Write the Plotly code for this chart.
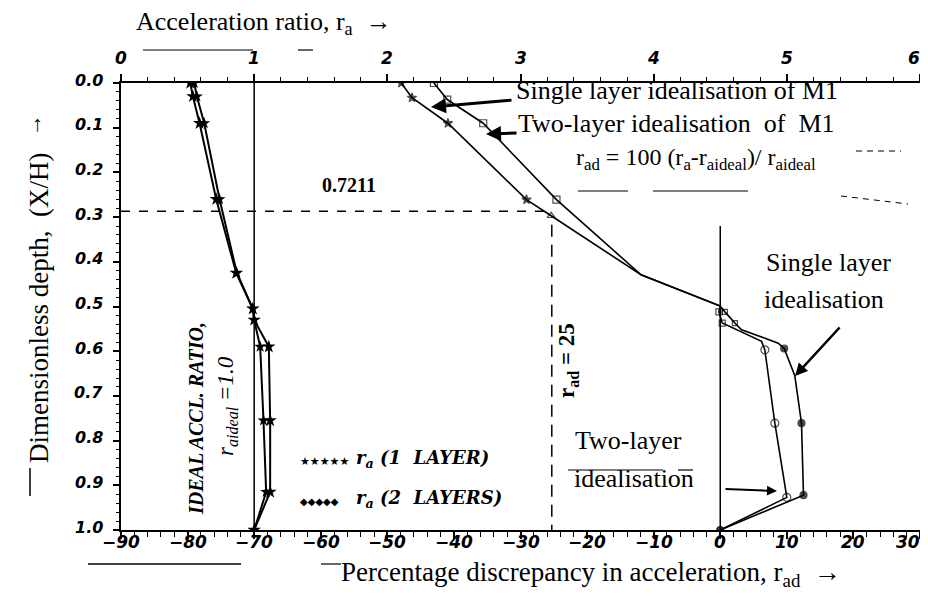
import plotly.graph_objects as go

# ---------------- data ----------------
depth_ra = [0.0, 0.03, 0.09, 0.26, 0.425, 0.505, 0.53, 0.59, 0.755, 0.915, 1.0]
ra_1layer = [0.52, 0.54, 0.59, 0.715, 0.865, 0.99, 1.0, 1.11, 1.12, 1.12, 1.0]
ra_2layer = [0.55, 0.57, 0.625, 0.74, 0.87, 0.99, 1.0, 1.045, 1.07, 1.09, 1.0]

depth_single = [0.0, 0.033, 0.09, 0.261, 0.297, 0.429, 0.499, 0.512, 0.537, 0.552, 0.582, 0.594, 0.655, 0.761, 0.922, 1.0]
rad_single = [-47.9, -46.3, -40.9, -29.1, -25.4, -11.9, 0.0, 0.7, 2.2, 3.2, 8.7, 9.6, 11.2, 12.2, 12.5, 0.0]

depth_two = [0.0, 0.037, 0.09, 0.261, 0.429, 0.499, 0.512, 0.537, 0.578, 0.597, 0.761, 0.927, 1.0]
rad_two = [-43.0, -41.0, -35.6, -24.6, -11.9, 0.0, -0.2, 0.3, 6.2, 6.7, 8.2, 10.0, 0.0]

ra_ideal = 1.0
rad_ref = -25.3
depth_ref = 0.287
depth_ref_label = "0.7211"

bottom_ticks = list(range(-90, 31, 10))
top_ticks = list(range(0, 7))
depth_ticks = [round(i * 0.1, 1) for i in range(11)]

# ---------------- styles ----------------
sym_single = ["star"] * 4 + ["triangle-up-open"] + ["circle"] * 2 + ["square-open"] * 2 + ["circle"] * 7
size_single = [7, 7, 7, 7, 7, 0, 0, 5, 5, 0, 0, 7, 0, 7, 7, 7]
sym_two = ["square-open"] * 4 + ["circle"] * 2 + ["square-open"] * 2 + ["circle-open"] * 5
size_two = [7, 7, 7, 7, 0, 0, 6, 6, 0, 8, 8, 8, 6]

L, R, T, B = 113, 912, 75, 522
W, H = 928, 596


def px(x):
    return (x - L) / (R - L)


def py(y):
    return (B - y) / (B - T)


SERIF = "Liberation Serif"
TICKFONT = dict(family="DejaVu Sans", size=17, color="black", weight="bold", style="italic")

fig = go.Figure()

# acceleration ratio curves (top axis)
fig.add_trace(go.Scatter(x=ra_1layer, y=depth_ra, xaxis="x2", yaxis="y", mode="lines+markers",
                         line=dict(color="black", width=2),
                         marker=dict(symbol="star", size=10, color="black"), name="ra 1 layer"))
fig.add_trace(go.Scatter(x=ra_2layer, y=depth_ra, xaxis="x2", yaxis="y", mode="lines+markers",
                         line=dict(color="black", width=2),
                         marker=dict(symbol="star", size=9, color="black"), name="ra 2 layers"))

# percentage discrepancy curves (bottom axis)
fig.add_trace(go.Scatter(x=rad_single, y=depth_single, mode="lines+markers",
                         line=dict(color="black", width=1.6),
                         marker=dict(symbol=sym_single, size=size_single, color="black",
                                     line=dict(color="black", width=1.2)),
                         name="single"))
fig.add_trace(go.Scatter(x=rad_two, y=depth_two, mode="lines+markers",
                         line=dict(color="black", width=1.6),
                         marker=dict(symbol=sym_two, size=size_two, color="black",
                                     line=dict(color="black", width=1.2)),
                         name="two"))

shapes = [
    dict(type="line", xref="x2", yref="y", x0=ra_ideal, x1=ra_ideal, y0=0, y1=1,
         line=dict(color="black", width=1.5)),
    dict(type="line", xref="x", yref="y", x0=0, x1=0, y0=0.32, y1=1,
         line=dict(color="black", width=1.5)),
    dict(type="line", xref="x", yref="y", x0=-90, x1=rad_ref, y0=depth_ref, y1=depth_ref,
         line=dict(color="black", width=1.5, dash="9px,9px")),
    dict(type="line", xref="x", yref="y", x0=rad_ref, x1=rad_ref, y0=depth_ref + 0.03, y1=1,
         line=dict(color="black", width=1.5, dash="12px,8px")),
]
# scan artefact strokes
for (x0, y0, x1, y1, w) in [(80, 556, 233, 556, 1.5), (313, 556, 333, 556, 1.2),
                            (560, 462, 655, 462, 1.2), (670, 462, 685, 462, 1.2),
                            (22, 460, 22, 488, 1.5), (135, 42, 245, 42, 1.2), (290, 42, 305, 42, 1.2),
                            (570, 183, 620, 183, 1.2), (645, 183, 740, 183, 1.2)]:
    shapes.append(dict(type="line", xref="paper", yref="paper", x0=px(x0), x1=px(x1),
                       y0=py(y0), y1=py(y1), line=dict(color="black", width=w)))
for (x0, y0, x1, y1) in [(848, 143, 893, 143), (833, 188, 900, 196)]:
    shapes.append(dict(type="line", xref="paper", yref="paper", x0=px(x0), x1=px(x1),
                       y0=py(y0), y1=py(y1), line=dict(color="black", width=1, dash="6px,5px")))

ann = []


def text(t, x, y, size=20, xanchor="center", angle=0, font=SERIF, weight="normal", style="normal"):
    ann.append(dict(text=t, x=px(x), y=py(y), xref="paper", yref="paper", showarrow=False,
                    xanchor=xanchor, yanchor="middle", textangle=angle,
                    font=dict(family=font, size=size, color="black", weight=weight, style=style)))


def arrow(x_tip, y_tip, x_tail, y_tail, width=2.5, head=2):
    ann.append(dict(text="", x=px(x_tip), y=py(y_tip), xref="paper", yref="paper",
                    ax=x_tail - x_tip, ay=y_tail - y_tip, axref="pixel", ayref="pixel",
                    showarrow=True, arrowhead=head, arrowsize=1, arrowwidth=width, arrowcolor="black"))


# tick labels (bold italic) placed through the axis scales
for v in bottom_ticks:
    ann.append(dict(text=str(v).replace("-", "−"), x=v, xref="x", y=py(534), yref="paper",
                    showarrow=False, xanchor="center", yanchor="middle", font=TICKFONT,
                    xshift=-12 if v == bottom_ticks[-1] else 0))
for v in top_ticks:
    ann.append(dict(text=str(v), x=v, xref="x2", y=py(50), yref="paper",
                    showarrow=False, xanchor="center", yanchor="middle", font=TICKFONT,
                    xshift=-6 if v == top_ticks[-1] else 0))
for v in depth_ticks:
    ann.append(dict(text=f"{v:.1f}", x=px(97), xref="paper", y=v, yref="y", yshift=3,
                    showarrow=False, xanchor="right", yanchor="middle",
                    font={**TICKFONT, "size": 16}))

text("Acceleration ratio, r<sub>a</sub>  →", 126, 15, size=26, xanchor="left")
text("Percentage discrepancy in acceleration, r<sub>ad</sub>  →", 331, 566, size=27, xanchor="left")
text("Dimensionless depth,  (X/H)", 31, 300, size=27, angle=-90)
text("→", 26, 117, size=22, angle=-90)
text(depth_ref_label, 341, 177, size=20, weight="bold")
text("Single layer idealisation of M1", 506, 82, size=26, xanchor="left")
text("Two-layer idealisation  of  M1", 508, 115, size=26, xanchor="left")
text("r<sub>ad</sub> = 100 (r<sub>a</sub>-r<sub>aideal</sub>)/ r<sub>aideal</sub>", 688, 151, size=24)
text("Single layer", 820, 254, size=26)
text("idealisation", 816, 291, size=26)
text("Two-layer", 620, 432, size=26)
text("idealisation", 626, 470, size=26)
text("r<sub>ad</sub> = 25", 560, 353, size=23, angle=-90, weight="bold")
text("IDEAL ACCL. RATIO,", 188, 411, size=20, angle=-90, weight="bold", style="italic")
text("r<sub>aideal</sub> =1.0", 219, 398, size=23, angle=-90, style="italic")
text("★★★★★", 290, 453, size=11, xanchor="left", font="DejaVu Sans")
text("r<sub>a</sub> (1  LAYER)", 346, 451, size=18, xanchor="left", font="DejaVu Serif",
     weight="bold", style="italic")
text("◆◆◆◆◆", 290, 493, size=10, xanchor="left", font="DejaVu Sans")
text("r<sub>a</sub> (2  LAYERS)", 346, 491, size=18, xanchor="left", font="DejaVu Serif",
     weight="bold", style="italic")

arrow(423, 99, 505, 92, width=3)
arrow(478, 126, 510, 125, width=3)
arrow(787, 368, 833, 318, width=2.5)
arrow(769, 483, 716, 481, width=2)

axis_common = dict(showline=True, linecolor="black", linewidth=2, showgrid=False, zeroline=False,
                   ticks="outside", tickcolor="black", tickwidth=1.5, showticklabels=False)

fig.update_layout(
    width=W, height=H, paper_bgcolor="white", plot_bgcolor="white", showlegend=False,
    margin=dict(l=L, r=W - R, t=T, b=H - B),
    xaxis=dict(range=[-90, 30], tickvals=bottom_ticks, ticklen=7, anchor="y",
               minor=dict(dtick=2, tick0=-90, ticks="outside", ticklen=5, tickcolor="black", tickwidth=1.2),
               **axis_common),
    xaxis2=dict(range=[0, 6], tickvals=top_ticks, ticklen=7, overlaying="x", side="top", anchor="y",
                minor=dict(dtick=0.2, tick0=0, ticks="outside", ticklen=4, tickcolor="black", tickwidth=1.2),
                **axis_common),
    yaxis=dict(range=[1, 0], tickvals=depth_ticks, ticklen=6, mirror=True,
               minor=dict(dtick=0.02, tick0=0, ticks="outside", ticklen=3, tickcolor="black", tickwidth=1),
               **axis_common),
    shapes=shapes,
    annotations=ann,
)

fig.write_html("out.html")
